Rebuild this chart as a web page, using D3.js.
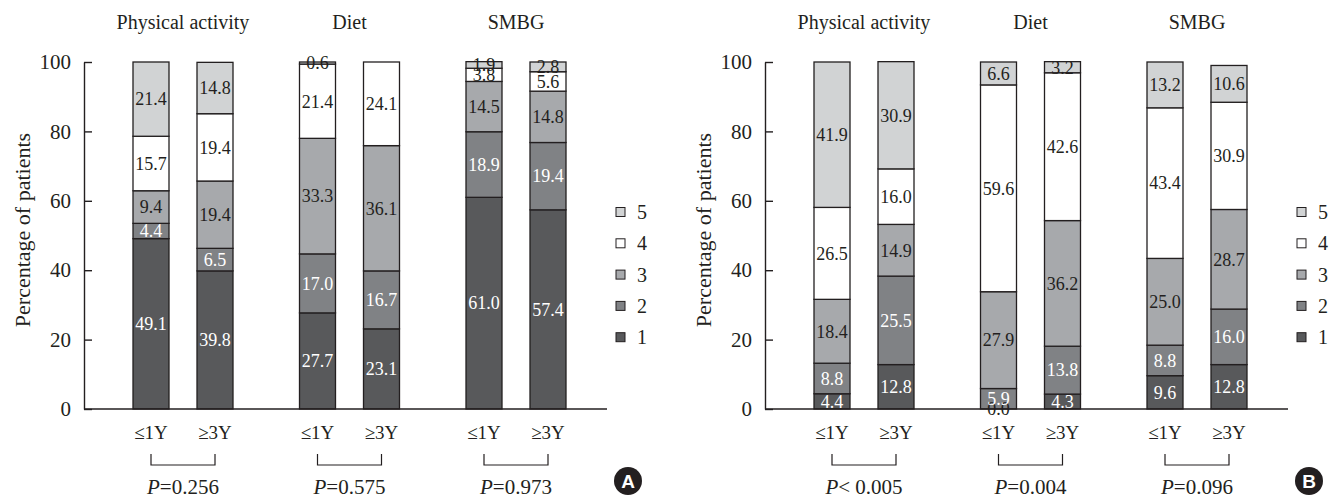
<!DOCTYPE html>
<html>
<head>
<meta charset="utf-8">
<script src="https://cdn.jsdelivr.net/npm/d3@7"></script>
<style>
  body { margin: 0; background: #fff; }
  text { font-family: "Liberation Serif", "DejaVu Serif", serif; fill: #231f20; }
</style>
</head>
<body>
<div id="chart"></div>
<script>
// categories
var groups = ["Physical activity", "Diet", "SMBG"];
var periods = ["\u22641Y", "\u22653Y"];
var levels = ["1", "2", "3", "4", "5"];
var yTicks = [0, 20, 40, 60, 80, 100];

// bar order: PA <=1Y, PA >=3Y, Diet <=1Y, Diet >=3Y, SMBG <=1Y, SMBG >=3Y
// panel A
var a1 = [49.1, 39.8, 27.7, 23.1, 61.0, 57.4];
var a2 = [4.4, 6.5, 17.0, 16.7, 18.9, 19.4];
var a3 = [9.4, 19.4, 33.3, 36.1, 14.5, 14.8];
var a4 = [15.7, 19.4, 21.4, 24.1, 3.8, 5.6];
var a5 = [21.4, 14.8, 0.6, null, 1.9, 2.8];
var pA = ["=0.256", "=0.575", "=0.973"];

// panel B
var b1 = [4.4, 12.8, 0.0, 4.3, 9.6, 12.8];
var b2 = [8.8, 25.5, 5.9, 13.8, 8.8, 16.0];
var b3 = [18.4, 14.9, 27.9, 36.2, 25.0, 28.7];
var b4 = [26.5, 16.0, 59.6, 42.6, 43.4, 30.9];
var b5 = [41.9, 30.9, 6.6, 3.2, 13.2, 10.6];
var pB = ["< 0.005", "=0.004", "=0.096"];

var width = 1338,
    height = 500;

var svg = d3.select("#chart")
  .append("svg")
  .attr("width", width)
  .attr("height", height);

var y = d3.scaleLinear().domain([0, 100]).range([409, 62]);
var xGroup = d3.scalePoint().domain(groups).range([99, 432]);
var xPeriod = d3.scalePoint().domain(periods).range([-32, 32]);
var barW = 36;
var color = d3.scaleOrdinal()
  .domain(levels)
  .range(["#58595b", "#808285", "#a7a9ac", "#ffffff", "#d1d3d4"]);
var stroke = "#231f20";
var serif = "'Liberation Serif', 'DejaVu Serif', serif";

drawPanel(84, [a1, a2, a3, a4, a5], pA, "A");
drawPanel(765, [b1, b2, b3, b4, b5], pB, "B");

function drawPanel(x0, series, pvals, letter) {
  var g = svg.append("g").attr("transform", "translate(" + x0 + ",0)");

  // build bars
  var bars = [];
  groups.forEach(function(grp, gi) {
    periods.forEach(function(per, pi) {
      var idx = gi * 2 + pi;
      var cum = 0;
      var segs = [];
      series.forEach(function(s, li) {
        var v = s[idx];
        var y0 = cum;
        cum += (v == null ? 0 : v);
        segs.push({level: levels[li], value: v, y0: y0, y1: cum});
      });
      bars.push({group: grp, period: per, cx: xGroup(grp) + xPeriod(per), segs: segs});
    });
  });

  // y axis
  var yAxis = g.append("g")
    .call(d3.axisLeft(y).tickValues(yTicks).tickSize(-8).tickSizeOuter(0).tickPadding(13));
  yAxis.selectAll("path, line").attr("stroke", stroke).attr("stroke-width", 1.4);
  yAxis.selectAll("text")
    .style("font-family", serif)
    .style("font-size", "21px")
    .attr("fill", stroke);

  g.append("text")
    .attr("transform", "translate(" + (-62) + "," + 230 + ") rotate(-90)")
    .attr("text-anchor", "middle")
    .attr("dy", "0.35em")
    .style("font-size", "22px")
    .text("Percentage of patients");

  // bars
  var barG = g.selectAll(".bar")
    .data(bars)
    .enter().append("g")
    .attr("class", "bar");

  barG.selectAll("rect")
    .data(function(d) { return d.segs.map(function(s) { s.cx = d.cx; return s; }); })
    .enter().append("rect")
    .attr("x", function(d) { return d.cx - barW / 2; })
    .attr("y", function(d) { return y(d.y1); })
    .attr("width", barW)
    .attr("height", function(d) { return y(d.y0) - y(d.y1); })
    .attr("fill", function(d) { return color(d.level); })
    .attr("stroke", stroke)
    .attr("stroke-width", 1.3);

  barG.selectAll("text")
    .data(function(d) { return d.segs.filter(function(s) { return s.value != null; }); })
    .enter().append("text")
    .attr("x", function(d) { return d.cx; })
    .attr("y", function(d) { return y((d.y0 + d.y1) / 2); })
    .attr("dy", "0.35em")
    .attr("text-anchor", "middle")
    .style("font-size", "18px")
    .style("fill", function(d) {
      return (d.level === "1" || d.level === "2") && d.value > 0 ? "#ffffff" : stroke;
    })
    .text(function(d) { return d.value.toFixed(1); });

  // x baseline
  g.append("line")
    .attr("x1", 0).attr("x2", 523)
    .attr("y1", y(0)).attr("y2", y(0))
    .attr("stroke", stroke)
    .attr("stroke-width", 1.4);

  // period labels
  g.selectAll(".plabel")
    .data(bars)
    .enter().append("text")
    .attr("class", "plabel")
    .attr("x", function(d) { return d.cx; })
    .attr("y", 439)
    .attr("text-anchor", "middle")
    .style("font-size", "19px")
    .text(function(d) { return d.period; });

  // group titles
  g.selectAll(".title")
    .data(groups)
    .enter().append("text")
    .attr("class", "title")
    .attr("x", function(d) { return xGroup(d); })
    .attr("y", 29)
    .attr("text-anchor", "middle")
    .style("font-size", "20px")
    .text(function(d) { return d; });

  // brackets + p values
  groups.forEach(function(grp, gi) {
    var xl = xGroup(grp) + xPeriod(periods[0]);
    var xr = xGroup(grp) + xPeriod(periods[1]);
    g.append("path")
      .attr("d", "M" + xl + ",454V465H" + xr + "V454")
      .attr("fill", "none")
      .attr("stroke", stroke)
      .attr("stroke-width", 1.2);
    var t = g.append("text")
      .attr("x", xGroup(grp))
      .attr("y", 494)
      .attr("text-anchor", "middle")
      .style("font-size", "21px");
    t.append("tspan").style("font-style", "italic").text("P");
    t.append("tspan").text(pvals[gi]);
  });

  // legend
  var legend = g.append("g").attr("transform", "translate(532,0)");
  levels.slice().reverse().forEach(function(lv, i) {
    var row = legend.append("g")
      .attr("transform", "translate(0," + (212 + i * 31.3) + ")");
    row.append("rect")
      .attr("x", 0).attr("y", -4.5)
      .attr("width", 9).attr("height", 9)
      .attr("fill", color(lv))
      .attr("stroke", stroke)
      .attr("stroke-width", 1);
    row.append("text")
      .attr("x", 21)
      .attr("dy", "0.35em")
      .style("font-size", "20px")
      .text(lv);
  });

  // panel letter
  g.append("circle")
    .attr("cx", 544).attr("cy", 481).attr("r", 14)
    .attr("fill", "#231f20");
  g.append("text")
    .attr("x", 544).attr("y", 481)
    .attr("dy", "0.36em")
    .attr("text-anchor", "middle")
    .style("font-family", "'Liberation Sans', Arial, sans-serif")
    .style("font-weight", "bold")
    .style("font-size", "19px")
    .style("fill", "#ffffff")
    .text(letter);
}
</script>
</body>
</html>
